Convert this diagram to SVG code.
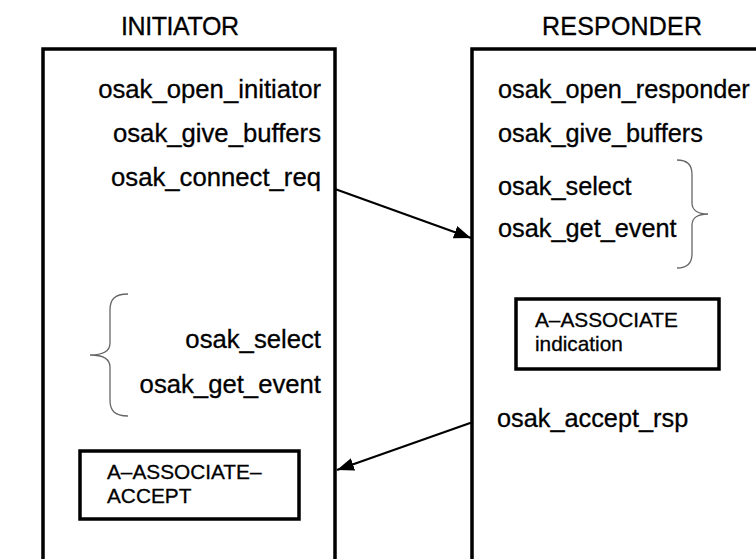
<svg xmlns="http://www.w3.org/2000/svg" width="756" height="559" viewBox="0 0 756 559">
<style>
text{font-family:"Liberation Sans",Arial,sans-serif;fill:#000;stroke:#000;stroke-width:0.3}
.t{font-size:25px}
.f{font-size:25.7px}
.r{font-size:25.3px}
.s{font-size:20.8px}
.lane{fill:none;stroke:#000;stroke-width:3.5}
.box{fill:#fff;stroke:#000;stroke-width:3.5}
.br{fill:none;stroke:#666;stroke-width:1.3}
.c{fill:none;stroke:#000;stroke-width:2.2}
</style>
<defs>
<marker id="ah" viewBox="0 0 17 13" refX="17" refY="6.5" markerWidth="17" markerHeight="13" markerUnits="userSpaceOnUse" orient="auto">
<path d="M0,0 L17,6.5 L0,13 z" fill="#000"/>
</marker>
</defs>
<g id="initiator">
<text class="t" x="180" y="35" text-anchor="middle" textLength="118">INITIATOR</text>
<rect class="lane" x="43" y="49" width="292" height="530"/>
<text class="f" x="321" y="98" text-anchor="end">osak_open_initiator</text>
<text class="f" x="321" y="142" text-anchor="end">osak_give_buffers</text>
<text class="f" x="321" y="186" text-anchor="end">osak_connect_req</text>
<path class="br" d="M128,294 C114,294 110,300 110,310 L110,343 C110,351 104,355 90,355 C104,355 110,359 110,367 L110,400 C110,410 114,416 128,416"/>
<text class="f" x="321" y="348" text-anchor="end">osak_select</text>
<text class="f" x="321" y="393" text-anchor="end">osak_get_event</text>
</g>
<g id="responder">
<text class="t" x="622" y="35" text-anchor="middle" textLength="160">RESPONDER</text>
<rect class="lane" x="472" y="49" width="320" height="530"/>
<text class="r" x="498" y="98">osak_open_responder</text>
<text class="r" x="498" y="142">osak_give_buffers</text>
<text class="r" x="498" y="195">osak_select</text>
<text class="r" x="498" y="237">osak_get_event</text>
<path class="br" d="M677,160 C688,160 692,165 692,174 L692,203 C692,210 698,214 708,214 C698,214 692,218 692,225 L692,254 C692,263 688,268 677,268"/>
<text class="r" x="497" y="427">osak_accept_rsp</text>
</g>
<g id="indication">
<rect class="box" x="516" y="299" width="203" height="70"/>
<text class="s" x="535" y="327">A–ASSOCIATE</text>
<text class="s" x="535" y="351">indication</text>
</g>
<g id="accept">
<rect class="box" x="80" y="451" width="219" height="68"/>
<text class="s" x="107" y="479">A–ASSOCIATE–</text>
<text class="s" x="107" y="503">ACCEPT</text>
</g>
<g id="connectors">
<line class="c" x1="335" y1="189" x2="471" y2="238" marker-end="url(#ah)"/>
<line class="c" x1="473" y1="422" x2="337" y2="470" marker-end="url(#ah)"/>
</g>
</svg>
